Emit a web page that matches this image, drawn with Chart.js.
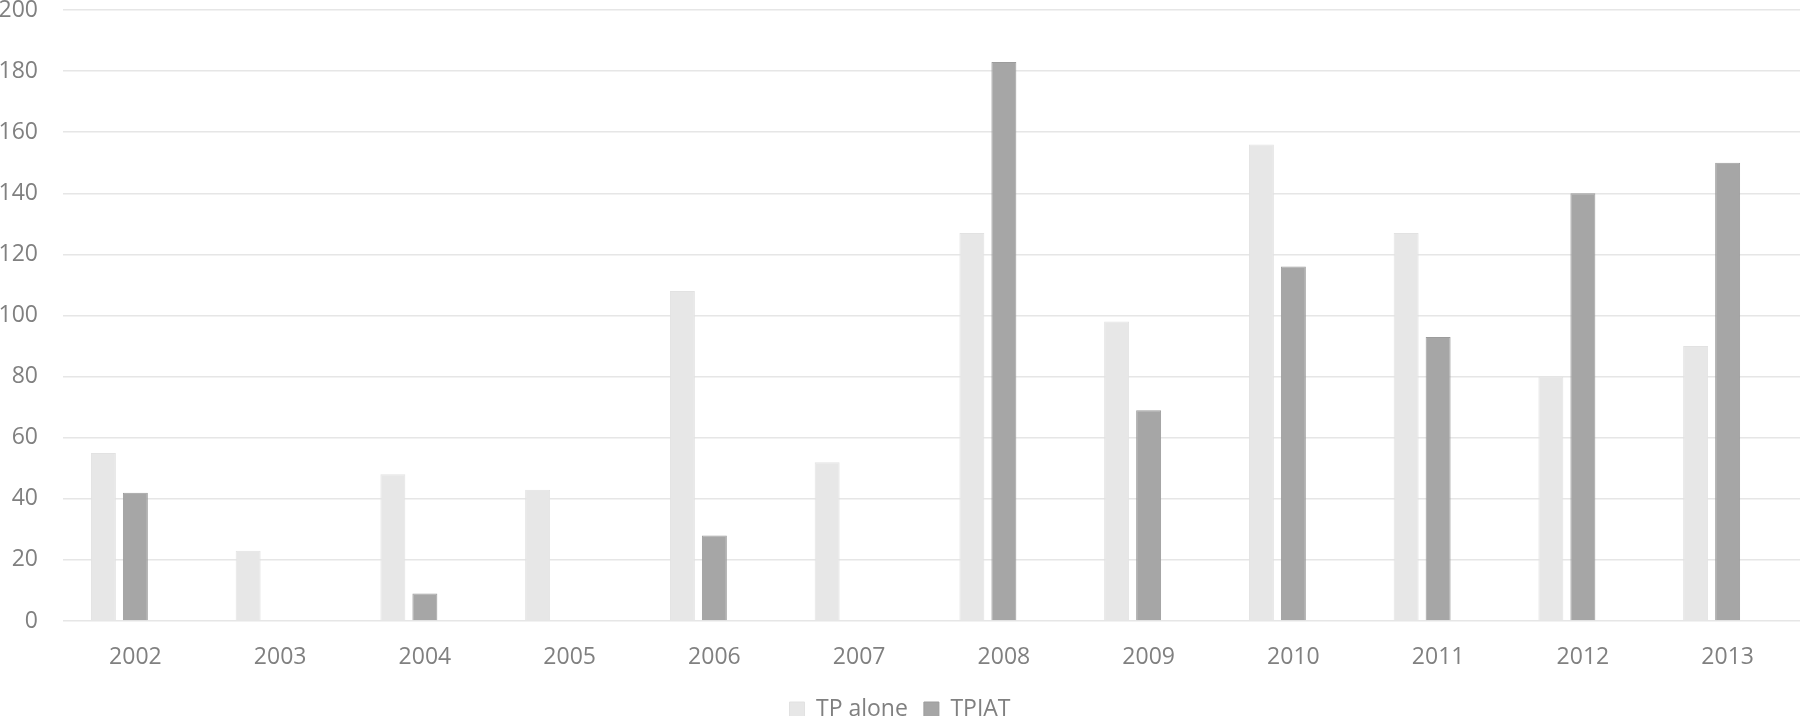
<!DOCTYPE html>
<html>
<head>
<meta charset="utf-8">
<script src="https://cdn.jsdelivr.net/npm/chart.js@4"></script>
<style>
    html, body { margin: 0; padding: 0; background: #ffffff; }
    #chart-box { width: 1800px; height: 716px; }
</style>
</head>
<body>
<div id="chart-box"><canvas id="year-chart"></canvas></div>
<script>
// =========================================================
// DATA
// =========================================================

const years = ["2002", "2003", "2004", "2005", "2006", "2007", "2008", "2009", "2010", "2011", "2012", "2013"];
const tpAlone = [55, 23, 48, 43, 108, 52, 127, 98, 156, 127, 80, 90];
const tpiat = [42, null, 9, null, 28, null, 183, 69, 116, 93, 140, 150];
// empty third series, keeps the two real bars left of the year label like the original
const spacer = [null, null, null, null, null, null, null, null, null, null, null, null];

const yTicks = [0, 20, 40, 60, 80, 100, 120, 140, 160, 180, 200];

// =========================================================
// CHART
// =========================================================

const textGray = "#808080";
const fontFamily = "'Open Sans', 'Liberation Sans', sans-serif";

const yearCanvas = document.getElementById("year-chart");

new Chart(yearCanvas, {
    type: "bar",
    data: {
        labels: years,
        datasets: [
            {
                label: "TP alone",
                data: tpAlone,
                backgroundColor: "#e7e7e7",
                borderColor: "#e2e2e2",
                borderWidth: 1
            },
            {
                label: "TPIAT",
                data: tpiat,
                backgroundColor: "#a6a6a6",
                borderColor: "#9c9c9c",
                borderWidth: 1
            },
            {
                label: "",
                data: spacer,
                backgroundColor: "rgba(0,0,0,0)"
            }
        ]
    },
    options: {
        responsive: true,
        maintainAspectRatio: false,
        animation: false,
        categoryPercentage: 0.663,
        barPercentage: 0.78,
        layout: {
            autoPadding: false,
            padding: { top: 10, right: 0, bottom: -15, left: 0 }
        },
        scales: {
            x: {
                grid: { display: false },
                border: { display: false },
                afterFit: function (scale) {
                    scale.height = 61;
                },
                ticks: {
                    color: textGray,
                    padding: 15,
                    font: { family: fontFamily, size: 23 }
                }
            },
            y: {
                min: 0,
                max: 200,
                afterBuildTicks: function (axis) {
                    axis.ticks = yTicks.map(value => ({ value: value }));
                },
                afterFit: function (scale) {
                    scale.width = 63;
                    scale.paddingTop = 0;
                    scale.paddingBottom = 0;
                },
                grid: {
                    color: "#e6e6e6",
                    lineWidth: 1.5,
                    drawTicks: false
                },
                border: { display: false },
                ticks: {
                    color: textGray,
                    padding: 25,
                    font: { family: fontFamily, size: 23 }
                }
            }
        },
        plugins: {
            legend: {
                position: "bottom",
                labels: {
                    color: textGray,
                    boxWidth: 15,
                    boxHeight: 15,
                    padding: 16,
                    font: { family: fontFamily, size: 23 },
                    filter: function (item) {
                        return item.text !== "";
                    }
                }
            },
            tooltip: { enabled: false }
        }
    }
});
</script>
</body>
</html>
